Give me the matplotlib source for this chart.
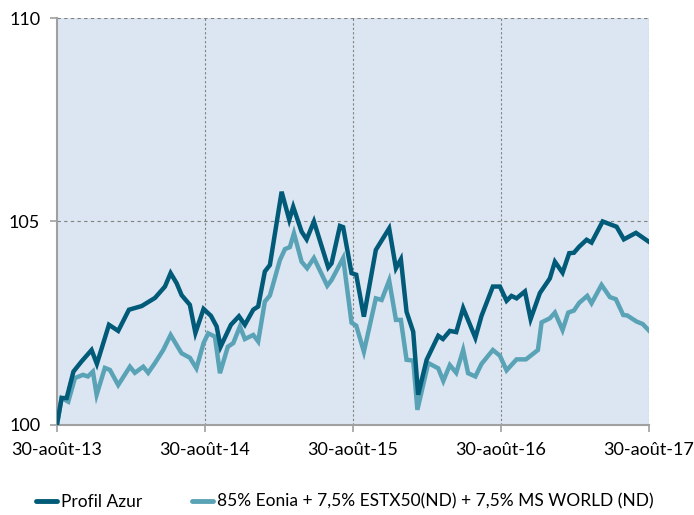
import matplotlib
matplotlib.use("Agg")
import matplotlib.pyplot as plt
from matplotlib.lines import Line2D

# months since 30-août-13 and index values
t_azur = [0, 0.38, 0.79, 1.34, 2.00, 2.81, 3.24, 4.22, 4.97, 5.84, 6.87, 7.95, 8.76, 9.22,
          9.71, 10.11, 10.78, 11.23, 11.89, 12.49, 12.95, 13.27, 14.11, 14.76, 15.24, 15.92,
          16.32, 16.86, 17.27, 18.22, 18.84, 19.16, 19.84, 20.25, 20.84, 22.00, 22.27, 22.95,
          23.21, 23.89, 24.27, 24.89, 25.86, 26.94, 27.49, 27.89, 28.35, 28.89, 29.29, 29.98,
          30.92, 31.30, 31.86, 32.38, 32.94, 33.93, 34.43, 35.35, 35.92, 36.46, 36.86, 37.27,
          37.95, 38.41, 39.16, 39.97, 40.38, 41.00, 41.54, 41.92, 42.35, 42.95, 43.35, 44.25,
          45.38, 45.97, 46.95, 48.00]
azur = [100.00, 100.66, 100.66, 101.31, 101.56, 101.84, 101.50, 102.46, 102.31, 102.83,
        102.92, 103.12, 103.40, 103.73, 103.48, 103.19, 102.95, 102.26, 102.85, 102.68,
        102.42, 101.92, 102.46, 102.67, 102.46, 102.83, 102.91, 103.77, 103.93, 105.73,
        105.04, 105.36, 104.75, 104.56, 105.00, 103.87, 103.97, 104.89, 104.86, 103.73,
        103.69, 102.66, 104.30, 104.83, 103.85, 104.07, 102.78, 102.29, 100.74, 101.60,
        102.19, 102.11, 102.31, 102.28, 102.87, 102.14, 102.68, 103.40, 103.40, 103.05,
        103.17, 103.11, 103.28, 102.60, 103.24, 103.60, 104.01, 103.74, 104.22, 104.23,
        104.38, 104.55, 104.48, 105.00, 104.87, 104.56, 104.72, 104.50]

t_bench = [0, 0.38, 0.92, 1.46, 2.11, 2.51, 2.92, 3.22, 3.89, 4.30, 4.97, 5.92, 6.32, 7.00,
           7.40, 7.95, 8.62, 9.22, 10.11, 10.78, 11.31, 11.89, 12.27, 12.81, 13.22, 13.86,
           14.30, 14.84, 15.24, 15.92, 16.32, 16.86, 17.27, 18.08, 18.49, 18.89, 19.22, 19.84,
           20.29, 20.84, 21.92, 22.27, 23.21, 23.89, 24.27, 24.89, 25.86, 26.33, 26.94, 27.49,
           27.89, 28.35, 28.89, 29.23, 30.11, 30.92, 31.33, 31.86, 32.38, 32.94, 33.34, 33.93,
           34.43, 35.35, 35.92, 36.46, 37.27, 38.03, 39.00, 39.30, 39.97, 40.38, 41.00, 41.46,
           41.92, 42.35, 43.00, 43.35, 44.16, 44.84, 45.32, 45.92, 46.24, 47.00, 47.49, 48.00]
bench = [100.00, 100.66, 100.57, 101.15, 101.23, 101.19, 101.31, 100.74, 101.40, 101.35,
         100.98, 101.43, 101.28, 101.43, 101.28, 101.52, 101.84, 102.21, 101.76, 101.65,
         101.39, 102.01, 102.25, 102.17, 101.27, 101.92, 102.01, 102.42, 102.11, 102.21,
         102.05, 103.03, 103.18, 104.05, 104.32, 104.37, 104.71, 104.01, 103.85, 104.10,
         103.42, 103.56, 104.10, 102.51, 102.44, 101.80, 103.11, 103.07, 103.55, 102.58,
         102.58, 101.60, 101.58, 100.37, 101.52, 101.39, 101.08, 101.47, 101.28, 101.84,
         101.27, 101.19, 101.50, 101.84, 101.70, 101.34, 101.61, 101.61, 101.84, 102.52,
         102.62, 102.76, 102.33, 102.76, 102.81, 103.00, 103.17, 102.99, 103.44, 103.14,
         103.09, 102.70, 102.69, 102.54, 102.48, 102.32]

tick_pos = [0, 12, 24, 36, 48]
tick_labels = ["30-août-13", "30-août-14", "30-août-15", "30-août-16", "30-août-17"]

dark = "#005a78"
light = "#5aa3b6"

plt.rcParams['font.family'] = ['Lato', 'DejaVu Sans']

fig = plt.figure(figsize=(6.94, 5.15), dpi=100)
ax = fig.add_axes([0.082, 0.175, 0.853, 0.79])
ax.set_facecolor("#dce6f2")

ax.plot(t_bench, bench, color=light, lw=3.2, solid_joinstyle='miter', zorder=3)
ax.plot(t_azur, azur, color=dark, lw=3.2, solid_joinstyle='miter', zorder=4)

ax.set_xlim(0, 48)
ax.set_ylim(100, 110)
ax.set_xticks(tick_pos)
ax.set_xticklabels(tick_labels)
ax.set_yticks([100, 105, 110])

# grid
for y in [105, 110]:
    ax.axhline(y, color="#808080", lw=0.8, ls=(0, (3, 3)), zorder=1)
for x in tick_pos[1:]:
    ax.axvline(x, color="#808080", lw=0.8, ls=(0, (2, 2)), zorder=1)

for s in ["top", "right"]:
    ax.spines[s].set_visible(False)
for s in ["left", "bottom"]:
    ax.spines[s].set_color("#a0a0a0")
    ax.spines[s].set_linewidth(1.5)

ax.tick_params(axis='both', colors="#a0a0a0", width=1.2, length=5, labelcolor="black",
               labelsize=13)
ax.tick_params(axis='x', pad=7)
ax.tick_params(axis='y', pad=7)

handles = [Line2D([0], [0], color=dark, lw=3.5, solid_capstyle='round'),
           Line2D([0], [0], color=light, lw=3.5, solid_capstyle='round')]
fig.legend(handles, ["Profil Azur", "85% Eonia + 7,5% ESTX50(ND) + 7,5% MS WORLD (ND)"],
           loc="lower left", bbox_to_anchor=(0.03, -0.02), ncol=2, frameon=False,
           fontsize=12.5, handlelength=1.2, handletextpad=0.2, columnspacing=2.9)

fig.savefig("out.png", dpi=100)
